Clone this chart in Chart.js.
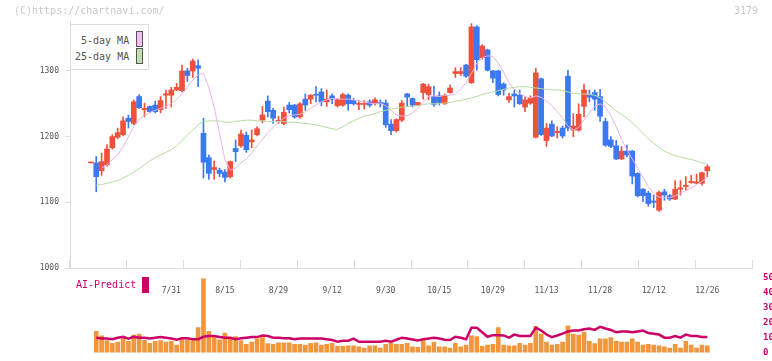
<!DOCTYPE html>
<html>
<head>
<meta charset="utf-8">
<script src="https://cdn.jsdelivr.net/npm/chart.js@4.4.1/dist/chart.umd.min.js"></script>
<style>
html, body { margin: 0; padding: 0; background: #fff; }
#wrap { position: relative; width: 772px; height: 361px; overflow: hidden; }
#main { position: absolute; left: 0; top: 0; }
#sub { position: absolute; left: 0; top: 268px; }
.txt { position: absolute; font: 10px/12px "DejaVu Sans Mono", monospace; white-space: nowrap; }
#legend { position: absolute; left: 70px; top: 24px; width: 79px; height: 46px; box-sizing: border-box; border: 1px solid #ddd; background: #fff; }
.sw { position: absolute; left: 136px; width: 5px; height: 14px; border: 1px solid #555; }
</style>
</head>
<body>
<div id="wrap">
  <canvas id="main" width="772" height="300"></canvas>
  <canvas id="sub" width="772" height="93"></canvas>

  <div class="txt" style="left:14px;top:5px;color:#c8c8c8;">(C)https://chartnavi.com/</div>
  <div class="txt" style="left:734px;top:5px;color:#c8c8c8;">3179</div>

  <div id="legend"></div>
  <div class="txt" style="left:81px;top:35px;color:#555;">5-day MA</div>
  <div class="txt" style="left:75px;top:51px;color:#555;">25-day MA</div>
  <div class="sw" style="top:31px;background:#f0c0f0;"></div>
  <div class="sw" style="top:48px;background:#c0e0b0;"></div>

  <div class="txt" style="left:76px;top:279px;color:#cc0066;">AI-Predict</div>
  <div style="position:absolute;left:142px;top:277px;width:7px;height:16px;background:#cc0066;"></div>
</div>

<script>
const MONO = '"DejaVu Sans Mono", monospace';

// x labels sit on every 10th session
const labelIdx = [15, 25, 35, 45, 55, 65, 75, 85, 95, 105, 115];
const labelText = ['7/31', '8/15', '8/29', '9/12', '9/30', '10/15', '10/29', '11/13', '11/28', '12/12', '12/26'];
const priceTicks = [1000, 1100, 1200, 1300];
const gridSteps = [0, 1, 2, 3, 4, 5, 6, 7, 8, 9, 10, 11];
const aiTicks = [0, 10, 20, 30, 40, 50];

const open = [
    1160, 1160, 1148, 1157, 1183, 1199, 1203, 1228, 1220, 1261,
    1241, 1246, 1248, 1241, 1263, 1263, 1271, 1270, 1300, 1300,
    1308, 1205, 1168, 1150, 1149, 1146, 1139, 1182, 1186, 1202,
    1192, 1203, 1225, 1254, 1240, 1223, 1220, 1248, 1248, 1230,
    1257, 1257, 1264, 1268, 1253, 1262, 1247, 1248, 1263, 1255,
    1249, 1249, 1253, 1250, 1252, 1251, 1219, 1209, 1225, 1265,
    1258, 1248, 1267, 1264, 1261, 1262, 1250, 1267, 1296, 1296,
    1309, 1282, 1367, 1320, 1332, 1300, 1300, 1280, 1256, 1265,
    1263, 1245, 1251, 1199, 1288, 1194, 1219, 1206, 1213, 1292,
    1210, 1210, 1246, 1264, 1267, 1261, 1223, 1195, 1186, 1166,
    1178, 1178, 1144, 1120, 1114, 1102, 1088, 1116, 1110, 1105,
    1120, 1124, 1130, 1129, 1129, 1148
];
const high = [
    1160, 1170, 1175, 1188, 1203, 1213, 1230, 1233, 1256, 1264,
    1251, 1247, 1254, 1261, 1271, 1275, 1281, 1309, 1304, 1318,
    1317, 1228, 1172, 1163, 1152, 1150, 1163, 1195, 1210, 1207,
    1210, 1215, 1246, 1262, 1243, 1231, 1245, 1252, 1249, 1252,
    1265, 1264, 1276, 1273, 1271, 1265, 1258, 1266, 1265, 1258,
    1255, 1255, 1256, 1259, 1256, 1256, 1226, 1227, 1255, 1266,
    1259, 1252, 1281, 1280, 1277, 1268, 1265, 1279, 1305, 1305,
    1310, 1372, 1369, 1340, 1333, 1301, 1301, 1282, 1266, 1271,
    1271, 1261, 1262, 1304, 1289, 1220, 1224, 1215, 1216, 1301,
    1235, 1250, 1280, 1271, 1271, 1272, 1228, 1200, 1194, 1185,
    1187, 1179, 1145, 1121, 1117, 1111, 1117, 1120, 1112, 1133,
    1133, 1139, 1141, 1143, 1146, 1157
];
const low = [
    1160, 1116, 1141, 1155, 1181, 1197, 1201, 1213, 1218, 1243,
    1230, 1236, 1236, 1236, 1243, 1245, 1270, 1268, 1284, 1290,
    1276, 1137, 1135, 1135, 1139, 1131, 1137, 1162, 1184, 1176,
    1183, 1201, 1221, 1230, 1220, 1220, 1218, 1236, 1228, 1228,
    1240, 1250, 1253, 1247, 1246, 1250, 1245, 1246, 1240, 1248,
    1241, 1242, 1245, 1248, 1245, 1214, 1203, 1207, 1223, 1246,
    1245, 1247, 1257, 1256, 1246, 1248, 1249, 1266, 1290, 1293,
    1290, 1281, 1301, 1318, 1300, 1282, 1262, 1263, 1252, 1245,
    1249, 1238, 1249, 1198, 1202, 1185, 1200, 1198, 1198, 1209,
    1200, 1208, 1230, 1253, 1240, 1223, 1185, 1183, 1165, 1165,
    1169, 1128, 1108, 1101, 1094, 1092, 1086, 1103, 1103, 1104,
    1111, 1118, 1129, 1128, 1126, 1139
];
const close = [
    1160, 1139, 1162, 1181, 1200, 1206, 1224, 1223, 1253, 1244,
    1243, 1238, 1238, 1255, 1265, 1271, 1275, 1300, 1293, 1315,
    1304, 1161, 1144, 1153, 1144, 1138, 1162, 1177, 1204, 1180,
    1195, 1212, 1233, 1238, 1228, 1225, 1237, 1241, 1230, 1250,
    1248, 1263, 1263, 1253, 1257, 1257, 1256, 1264, 1250, 1250,
    1250, 1250, 1248, 1256, 1250, 1218, 1209, 1226, 1251, 1260,
    1248, 1252, 1280, 1276, 1249, 1252, 1263, 1274, 1299, 1299,
    1292, 1367, 1317, 1338, 1301, 1289, 1264, 1271, 1261, 1262,
    1250, 1256, 1259, 1297, 1203, 1213, 1201, 1208, 1201, 1213,
    1216, 1234, 1271, 1260, 1257, 1231, 1187, 1185, 1166, 1178,
    1172, 1140, 1110, 1110, 1098, 1100, 1115, 1111, 1105, 1120,
    1122, 1126, 1132, 1131, 1145, 1154
];
const ma5 = [
    null, null, 1152, 1157, 1165, 1172, 1185, 1200, 1215, 1226,
    1232, 1237, 1240, 1243, 1246, 1250, 1257, 1265, 1275, 1286,
    1294, 1296, 1275, 1245, 1205, 1165, 1149, 1152, 1160, 1166,
    1175, 1186, 1196, 1206, 1214, 1222, 1228, 1232, 1233, 1234,
    1238, 1243, 1248, 1253, 1256, 1258, 1258, 1257, 1257, 1256,
    1254, 1253, 1251, 1250, 1251, 1247, 1240, 1233, 1231, 1232,
    1236, 1243, 1253, 1261, 1262, 1261, 1263, 1263, 1265, 1273,
    1282, 1296, 1312, 1320, 1323, 1322, 1312, 1298, 1282, 1272,
    1266, 1261, 1259, 1262, 1260, 1254, 1247, 1238, 1229, 1216,
    1210, 1214, 1225, 1236, 1246, 1250, 1245, 1232, 1215, 1196,
    1180, 1166, 1152, 1138, 1124, 1113, 1108, 1107, 1107, 1110,
    1114, 1118, 1122, 1127, 1132, 1138
];
const ma25 = [
    null, 1126, 1127, 1129, 1131, 1133, 1137, 1141, 1146, 1151,
    1157, 1163, 1168, 1172, 1176, 1180, 1186, 1194, 1202, 1210,
    1218, 1223, 1224, 1224, 1224, 1222, 1222, 1223, 1224, 1225,
    1225, 1224, 1224, 1223, 1223, 1223, 1223, 1222, 1222, 1221,
    1220, 1219, 1218, 1216, 1214, 1212, 1211, 1215, 1220, 1224,
    1228, 1231, 1233, 1235, 1238, 1240, 1242, 1243, 1245, 1246,
    1246, 1247, 1249, 1250, 1250, 1250, 1251, 1252, 1254, 1255,
    1257, 1259, 1261, 1264, 1266, 1268, 1270, 1272, 1274, 1275,
    1276, 1276, 1275, 1274, 1273, 1272, 1271, 1271, 1270, 1268,
    1266, 1265, 1265, 1264, 1263, 1259, 1253, 1246, 1239, 1234,
    1228, 1221, 1213, 1205, 1197, 1190, 1184, 1178, 1174, 1171,
    1169, 1167, 1165, 1163, 1160, 1158
];
const volume = [
    null, 230, 183, 130, 100, 113, 173, 123, 190, 200,
    133, 100, 123, 130, 113, 123, 83, 140, 140, 130,
    273, 800, 230, 163, 140, 213, 163, 173, 130, 90,
    113, 150, 163, 97, 90, 107, 107, 107, 90, 90,
    83, 100, 107, 83, 90, 100, 67, 67, 73, 73,
    63, 50, 73, 73, 50, 90, 100, 90, 90, 100,
    63, 57, 130, 73, 113, 63, 63, 50, 100, 63,
    83, 183, 173, 67, 83, 90, 273, 83, 73, 73,
    100, 83, 100, 283, 200, 113, 83, 90, 113, 290,
    200, 190, 223, 123, 97, 150, 150, 163, 123, 113,
    113, 150, 113, 83, 90, 83, 73, 63, 50, 90,
    50, 123, 83, 50, 83, 73
];
const aiPredict = [
    null, 10.0, 9.4, 9.4, 9.0, 10.0, 10.6, 9.4, 10.6, 10.0,
    10.0, 9.4, 10.0, 10.4, 10.0, 9.4, 8.6, 9.6, 9.6, 9.0,
    9.0, 10.6, 11.1, 11.1, 10.4, 10.0, 10.0, 9.0, 9.6, 10.0,
    10.4, 10.4, 11.5, 11.1, 10.0, 10.0, 9.6, 9.6, 9.0, 9.4,
    9.4, 9.4, 9.4, 9.4, 9.0, 8.4, 7.3, 7.9, 7.9, 9.4,
    7.3, 7.3, 7.3, 7.3, 7.3, 7.9, 7.3, 8.6, 10.0, 9.4,
    8.8, 8.2, 9.0, 9.4, 10.0, 9.4, 8.6, 8.4, 10.6, 10.0,
    9.0, 16.7, 16.7, 13.6, 10.6, 11.7, 11.7, 11.5, 10.0, 12.1,
    11.1, 11.1, 11.1, 16.7, 14.8, 12.1, 10.4, 11.5, 12.7, 14.2,
    14.8, 14.8, 15.6, 16.2, 15.2, 17.3, 16.2, 15.2, 13.6, 14.2,
    14.2, 13.6, 14.2, 14.8, 13.1, 12.7, 12.1, 10.0, 10.0, 11.1,
    10.0, 12.1, 11.1, 11.1, 10.4, 10.4
];

// session index range covered by the plot width (70..752 px)
const X_MIN = -3.9;
const X_MAX = 123.34;

const candleColor = close.map((c, i) => c >= open[i] ? '#f0503c' : '#3c78f0');
const xy = arr => arr.map((v, i) => ({ x: i, y: v }));

Chart.defaults.font.family = MONO;

new Chart(document.getElementById('main'), {
    type: 'bar',
    data: {
        datasets: [
            {
                type: 'line', label: '5-day MA', data: xy(ma5), order: 0,
                borderColor: '#e8b4e8', borderWidth: 1, pointRadius: 0
            },
            {
                type: 'line', label: '25-day MA', data: xy(ma25), order: 0,
                borderColor: '#b4dca0', borderWidth: 1, pointRadius: 0
            },
            {
                label: 'body', order: 1, grouped: false,
                data: open.map((o, i) => ({ x: i, y: [o, close[i]] })),
                backgroundColor: candleColor, barThickness: 5, minBarLength: 1
            },
            {
                label: 'wick', order: 2, grouped: false,
                data: high.map((h, i) => ({ x: i, y: [low[i], h] })),
                backgroundColor: candleColor, barThickness: 1
            }
        ]
    },
    options: {
        responsive: false,
        animation: false,
        devicePixelRatio: 1,
        layout: { padding: { top: 21, right: 20, left: 0, bottom: 0 } },
        plugins: { legend: { display: false }, tooltip: { enabled: false } },
        scales: {
            x: {
                type: 'linear', min: X_MIN, max: X_MAX, offset: false, weight: 1,
                grid: { display: false },
                border: { display: false },
                afterBuildTicks: s => { s.ticks = labelIdx.map(v => ({ value: v })); },
                ticks: {
                    autoSkip: false, maxRotation: 0, padding: 10, color: '#555',
                    font: { size: 8 },
                    callback: v => labelText[labelIdx.indexOf(v)]
                },
                afterFit: s => { s.height = 32; }
            },
            xt: {
                type: 'linear', position: 'bottom', min: 0, max: 11, weight: 0,
                afterBuildTicks: s => { s.ticks = gridSteps.map(v => ({ value: v })); },
                ticks: { display: false },
                grid: { drawOnChartArea: false, tickLength: -8, color: '#ddd' },
                border: { color: '#ddd' },
                afterFit: s => { s.height = 0; }
            },
            y: {
                position: 'left', min: 1000, max: 1376,
                afterBuildTicks: s => { s.ticks = priceTicks.map(v => ({ value: v })); },
                ticks: { padding: 6, color: '#555', font: { size: 8 }, callback: v => String(v) },
                grid: { drawOnChartArea: false, tickLength: 5, color: '#ddd' },
                border: { color: '#ddd' },
                afterFit: s => { s.width = 70; }
            }
        }
    }
});

new Chart(document.getElementById('sub'), {
    type: 'bar',
    data: {
        datasets: [
            {
                type: 'line', label: 'AI-Predict', data: xy(aiPredict), order: 0, yAxisID: 'ya',
                borderColor: '#cc0066', borderWidth: 2.5, pointRadius: 0
            },
            {
                label: 'volume', data: xy(volume), order: 1, yAxisID: 'yv',
                backgroundColor: '#f0963c', barThickness: 4
            }
        ]
    },
    options: {
        responsive: false,
        animation: false,
        devicePixelRatio: 1,
        layout: { padding: { top: 10, right: 0, left: 70, bottom: 3 } },
        plugins: { legend: { display: false }, tooltip: { enabled: false } },
        scales: {
            x: { type: 'linear', min: X_MIN, max: X_MAX, offset: false, display: false },
            yv: { display: false, min: 0, max: 810 },
            ya: {
                position: 'right', min: 0, max: 50,
                afterBuildTicks: s => { s.ticks = aiTicks.map(v => ({ value: v })); },
                ticks: { padding: 3, color: '#cc0066', font: { size: 9, weight: 'bold' } },
                grid: { display: false },
                border: { display: false },
                afterFit: s => { s.width = 20; }
            }
        }
    }
});
</script>
</body>
</html>
